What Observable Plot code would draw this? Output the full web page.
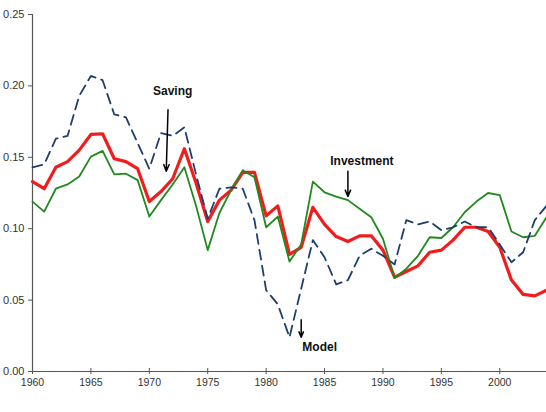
<!DOCTYPE html>
<html>
<head>
<meta charset="utf-8">
<script src="https://cdn.jsdelivr.net/npm/d3@7"></script>
<script src="https://cdn.jsdelivr.net/npm/@observablehq/plot@0.6"></script>
<style>
  html, body { margin: 0; padding: 0; background: #fff; }
  #chart svg { display: block; }
</style>
</head>
<body>
<div id="chart"></div>
<script>
// Annual series, 1960–2004
const years = [1960, 1961, 1962, 1963, 1964, 1965, 1966, 1967, 1968, 1969,
               1970, 1971, 1972, 1973, 1974, 1975, 1976, 1977, 1978, 1979,
               1980, 1981, 1982, 1983, 1984, 1985, 1986, 1987, 1988, 1989,
               1990, 1991, 1992, 1993, 1994, 1995, 1996, 1997, 1998, 1999,
               2000, 2001, 2002, 2003, 2004];

const saving = [0.133, 0.128, 0.143, 0.147, 0.155, 0.166, 0.1665, 0.149, 0.147, 0.142,
                0.119, 0.126, 0.135, 0.156, 0.132, 0.105, 0.120, 0.127, 0.1395, 0.1395,
                0.109, 0.116, 0.082, 0.087, 0.115, 0.103, 0.0945, 0.091, 0.095, 0.095,
                0.085, 0.066, 0.070, 0.074, 0.0835, 0.085, 0.092, 0.101, 0.101, 0.098,
                0.087, 0.064, 0.054, 0.053, 0.057];

const investment = [0.119, 0.112, 0.128, 0.131, 0.1365, 0.1505, 0.1545, 0.138, 0.1385, 0.134,
                    0.1085, 0.120, 0.131, 0.143, 0.116, 0.085, 0.111, 0.127, 0.141, 0.136,
                    0.101, 0.1085, 0.077, 0.089, 0.133, 0.1255, 0.1225, 0.120, 0.114, 0.108,
                    0.093, 0.0655, 0.072, 0.081, 0.094, 0.0935, 0.101, 0.1115, 0.119, 0.125,
                    0.1235, 0.098, 0.094, 0.095, 0.108];

const model = [0.143, 0.145, 0.163, 0.165, 0.193, 0.207, 0.204, 0.180, 0.178, 0.160,
               0.142, 0.167, 0.165, 0.171, 0.138, 0.107, 0.128, 0.129, 0.128, 0.106,
               0.057, 0.047, 0.024, 0.058, 0.092, 0.080, 0.061, 0.064, 0.081, 0.086,
               0.081, 0.075, 0.106, 0.103, 0.105, 0.099, 0.101, 0.105, 0.101, 0.101,
               0.089, 0.0765, 0.0835, 0.106, 0.116];

const xTicks = [1960, 1965, 1970, 1975, 1980, 1985, 1990, 1995, 2000];
const yTicks = [0, 0.05, 0.10, 0.15, 0.20, 0.25];

// Annotation labels and their pointer arrows
const centeredLabels = [
  {text: "Saving", x: 1972.0, y: 0.196},
  {text: "Investment", x: 1988.2, y: 0.147}
];
const leftLabels = [
  {text: "Model", x: 1983.1, y: 0.0168}
];
const pointers = [
  {x1: 1971.6, y1: 0.1833, x2: 1971.45, y2: 0.1403},
  {x1: 1987.0, y1: 0.1403, x2: 1987.0, y2: 0.1225},
  {x1: 1983.0, y1: 0.0362, x2: 1983.0, y2: 0.0240}
];

const rows = years.map((year, i) => ({year, saving: saving[i], investment: investment[i], model: model[i]}));

const axisColor = "#555";
const labelStyle = {x: "x", y: "y", text: "text", fontSize: 12, fontWeight: "bold", fill: "#111"};

const chart = Plot.plot({
  width: 546,
  height: 412,
  marginLeft: 32,
  marginRight: 0,
  marginTop: 14,
  marginBottom: 41,
  style: {fontFamily: "'Liberation Sans', Arial, sans-serif", color: "#333", background: "#fff"},
  x: {domain: [1960, 2004]},
  y: {domain: [0, 0.25]},
  marks: [
    // axes
    Plot.axisY({ticks: yTicks, tickSize: 4, tickPadding: 4, tickFormat: d3.format(".2f"),
                fontSize: 11, stroke: axisColor, label: null}),
    Plot.axisX({ticks: xTicks, tickSize: 3, tickPadding: 4, tickFormat: d => String(d),
                fontSize: 10.5, stroke: axisColor, label: null}),
    Plot.ruleX(xTicks, {x: d => d, y1: 0, y2: 0, insetTop: -3, insetBottom: 0, stroke: axisColor}),
    Plot.ruleY([0], {stroke: axisColor, strokeWidth: 1.2}),
    Plot.ruleX([1960], {y1: 0, y2: 0.25, stroke: axisColor, strokeWidth: 1.2}),

    // series
    Plot.line(rows, {x: "year", y: "saving", stroke: "#f21c1c", strokeWidth: 3.2}),
    Plot.line(rows, {x: "year", y: "investment", stroke: "#22891f", strokeWidth: 1.8}),
    Plot.line(rows, {x: "year", y: "model", stroke: "#1d3f6c", strokeWidth: 1.8,
                     strokeDasharray: "10,6"}),

    // annotations
    Plot.arrow(pointers, {x1: "x1", y1: "y1", x2: "x2", y2: "y2", stroke: "#000",
                          strokeWidth: 1.5, headLength: 7, headAngle: 45}),
    Plot.text(centeredLabels, {...labelStyle, textAnchor: "middle"}),
    Plot.text(leftLabels, {...labelStyle, textAnchor: "start"})
  ]
});

document.getElementById("chart").append(chart);
</script>
</body>
</html>
